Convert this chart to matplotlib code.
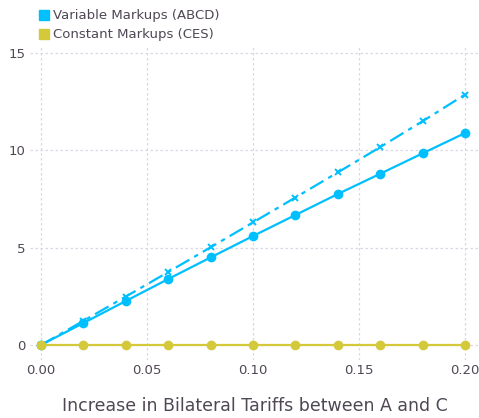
import numpy as np
import matplotlib
matplotlib.use("Agg")
import matplotlib.pyplot as plt
from matplotlib.lines import Line2D

# tariff increase on the x axis
tariff = [0.00, 0.02, 0.04, 0.06, 0.08, 0.10, 0.12, 0.14, 0.16, 0.18, 0.20]

# variable markups (ABCD): solid with dots, dash-dot with crosses
abcd_dots = [0.0, 1.13, 2.26, 3.39, 4.50, 5.60, 6.68, 7.76, 8.80, 9.85, 10.89]
abcd_cross = [0.0, 1.24, 2.49, 3.75, 5.02, 6.30, 7.58, 8.87, 10.17, 11.50, 12.87]
# constant markups (CES)
ces = [0.0, 0.0, 0.0, 0.0, 0.0, 0.0, 0.0, 0.0, 0.0, 0.0, 0.0]

blue = "#00bfff"
olive = "#d4c93a"
text_col = "#4f4754"

plt.rcParams['font.family'] = ['DejaVu Sans']

fig = plt.figure(figsize=(4.79, 4.18), dpi=100)
ax = fig.add_axes([0.0626, 0.1388, 0.9374, 0.7532])

ax.plot(tariff, abcd_cross, color=blue, lw=1.6, dashes=(7, 2.5, 2, 2.5),
        marker="x", ms=4.5, mew=1.4)
ax.plot(tariff, abcd_dots, color=blue, lw=1.6, marker="o", ms=7, mew=0)
ax.plot(tariff, ces, color=olive, lw=1.6, marker="o", ms=7, mew=0)

ax.set_xlim(-0.0052, 0.2066)
ax.set_ylim(-0.77, 15.41)
ax.set_xticks([0.0, 0.05, 0.10, 0.15, 0.20])
ax.set_xticklabels(["0.00", "0.05", "0.10", "0.15", "0.20"])
ax.set_yticks([0, 5, 10, 15])

for s in ax.spines.values():
    s.set_visible(False)
ax.grid(True, color="#dad6e2", lw=0.9, ls=(0, (2, 2)))
ax.set_axisbelow(True)
ax.tick_params(length=0, labelsize=9.5, colors=text_col, pad=3)

ax.set_xlabel("Increase in Bilateral Tariffs between A and C",
              fontsize=12.5, color=text_col, labelpad=14)

handles = [
    Line2D([], [], ls="none", marker="s", ms=7, color=blue),
    Line2D([], [], ls="none", marker="s", ms=7, color=olive),
]
fig.legend(handles, ["Variable Markups (ABCD)", "Constant Markups (CES)"],
           loc="upper left", bbox_to_anchor=(0.062, 1.0), frameon=False,
           fontsize=9.5, labelcolor=text_col, handlelength=0.8,
           handletextpad=0.3, labelspacing=0.45, borderaxespad=0.3)

fig.savefig("out.png", dpi=100)
